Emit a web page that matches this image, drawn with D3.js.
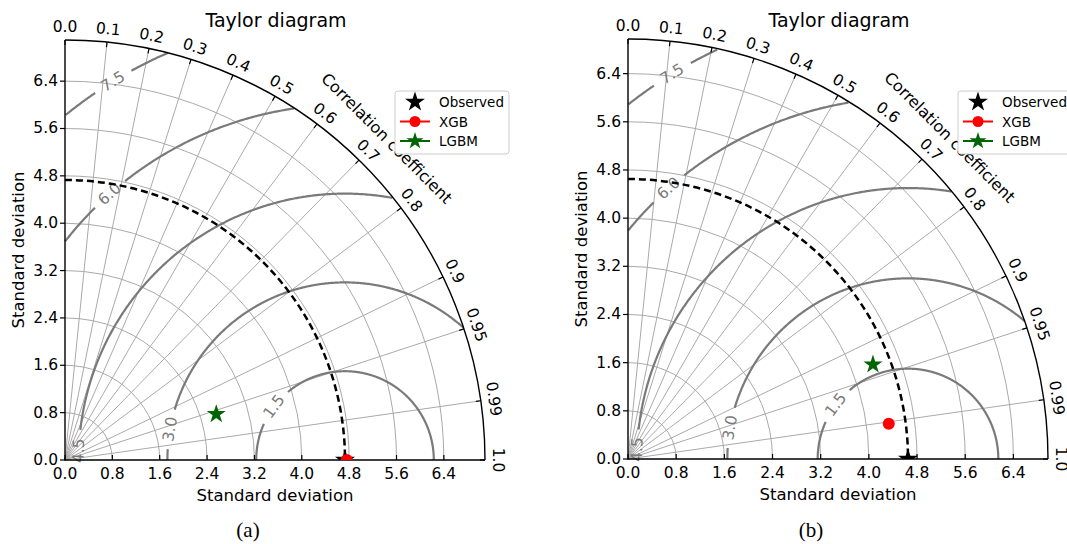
<!DOCTYPE html>
<meta charset="utf-8">
<head>
<style>
body { margin: 0; background: #fff; }
svg text { font-family: "DejaVu Sans", sans-serif; fill: #000; }
.grid { fill: none; stroke: #aaa; stroke-width: 1; }
.rms { fill: none; stroke: #7a7a7a; stroke-width: 2.2; }
.rmslabel { fill: #7a7a7a; font-size: 15.5px; }
.frame { fill: none; stroke: #000; stroke-width: 1.4; }
.caption { font-family: "Liberation Serif", serif; font-size: 21px; }
</style>
</head>
<body>
<div id="chart"></div>
<script src="https://cdn.jsdelivr.net/npm/d3@7"></script>
<script>

// ticks and contour levels
var corrTicks = [0.0, 0.1, 0.2, 0.3, 0.4, 0.5, 0.6, 0.7, 0.8, 0.9, 0.95, 0.99, 1.0];
var stdTicks = [0.0, 0.8, 1.6, 2.4, 3.2, 4.0, 4.8, 5.6, 6.4];
var rmsLevels = [1.5, 3.0, 4.5, 6.0, 7.5];
var rmsLabelAngle = [143, 170, 178, 131.5, 121.5]; // where each label sits on its contour (deg)

// one entry per panel
var panelNames = ["(a)", "(b)"];
var refStd = [4.73, 4.65];
var seriesNames = ["Observed", "XGB", "LGBM"];
var xgbStd = [4.76, 4.37];
var xgbCorr = [1.0, 0.991];
var lgbmStd = [2.67, 4.36];
var lgbmCorr = [0.957, 0.933];

var width = 1067, height = 544;
var R = 420; // pixel radius of the quarter circle
var origins = [{x: 65, y: 460}, {x: 628, y: 459}];

var svg = d3.select("#chart").append("svg")
    .attr("width", width)
    .attr("height", height);

function starPath(cx, cy, ro) {
  var ri = ro * 0.382, pts = [];
  for (var k = 0; k < 10; k++) {
    var a = -Math.PI / 2 + k * Math.PI / 5;
    var rr = k % 2 ? ri : ro;
    pts.push([cx + rr * Math.cos(a), cy + rr * Math.sin(a)]);
  }
  return "M" + pts.join("L") + "Z";
}

function fmtCorr(c) {
  return Math.round(c * 100) % 10 === 0 ? c.toFixed(1) : c.toFixed(2);
}

function drawPanel(p) {
  var ox = origins[p].x, oy = origins[p].y;
  var rmax = 1.5 * refStd[p];
  var r = d3.scaleLinear().domain([0, rmax]).range([0, R]);
  var g = svg.append("g");

  function pt(s, c) {
    var t = Math.acos(c);
    return [ox + r(s) * Math.cos(t), oy - r(s) * Math.sin(t)];
  }
  function arcPath(rad) {
    return "M" + ox + "," + (oy - rad) + "A" + rad + "," + rad + " 0 0 1 " + (ox + rad) + "," + oy;
  }

  var clipId = "clip" + p;
  svg.append("clipPath").attr("id", clipId)
    .append("path")
    .attr("d", "M" + ox + "," + oy + "L" + ox + "," + (oy - R) +
      "A" + R + "," + R + " 0 0 1 " + (ox + R) + "," + oy + "Z");

  // grid: std arcs and correlation rays
  g.selectAll(".garc").data(stdTicks.filter(function(d) { return d > 0; }))
    .enter().append("path").attr("class", "grid")
    .attr("d", function(d) { return arcPath(r(d)); });
  g.selectAll(".gray").data(corrTicks.filter(function(d) { return d > 0 && d < 1; }))
    .enter().append("line").attr("class", "grid")
    .attr("x1", ox).attr("y1", oy)
    .attr("x2", function(d) { return pt(rmax, d)[0]; })
    .attr("y2", function(d) { return pt(rmax, d)[1]; });

  // centred RMS contours, broken where the label sits
  var line = d3.line()
    .x(function(d) { return ox + r(d[0]); })
    .y(function(d) { return oy - r(d[1]); });
  rmsLevels.forEach(function(lev, i) {
    var gap = (15 + 5) / r(lev) * 180 / Math.PI;
    var runs = [], cur = [];
    for (var a = 0; a <= 180; a += 0.25) {
      var x = refStd[p] + lev * Math.cos(a * Math.PI / 180);
      var y = lev * Math.sin(a * Math.PI / 180);
      var ok = x >= 0 && Math.hypot(x, y) <= rmax && Math.abs(a - rmsLabelAngle[i]) > gap;
      if (ok) cur.push([x, y]);
      else if (cur.length) { runs.push(cur); cur = []; }
    }
    if (cur.length) runs.push(cur);
    runs.forEach(function(run) {
      g.append("path").attr("class", "rms").attr("d", line(run));
    });
    var la = rmsLabelAngle[i] * Math.PI / 180;
    var lx = ox + r(refStd[p] + lev * Math.cos(la));
    var ly = oy - r(lev * Math.sin(la));
    g.append("text").attr("class", "rmslabel")
      .attr("transform", "translate(" + lx + "," + ly + ") rotate(" + (90 - rmsLabelAngle[i]) + ")")
      .attr("text-anchor", "middle").attr("dominant-baseline", "central")
      .text(lev.toFixed(1));
  });

  // reference std arc
  g.append("path").attr("d", arcPath(r(refStd[p])))
    .attr("fill", "none").attr("stroke", "#000")
    .attr("stroke-width", 2.5).attr("stroke-dasharray", "7,4");

  // frame
  g.append("path").attr("class", "frame")
    .attr("d", "M" + ox + "," + (oy - R) + "L" + ox + "," + oy + "L" + (ox + R) + "," + oy);
  g.append("path").attr("class", "frame").attr("d", arcPath(R));

  // correlation ticks and labels
  corrTicks.forEach(function(c) {
    var t = Math.acos(c);
    g.append("line").attr("stroke", "#000").attr("stroke-width", 1.2)
      .attr("x1", ox + R * Math.cos(t)).attr("y1", oy - R * Math.sin(t))
      .attr("x2", ox + (R - 5) * Math.cos(t)).attr("y2", oy - (R - 5) * Math.sin(t));
    g.append("text")
      .attr("transform", "translate(" + (ox + (R + 13) * Math.cos(t)) + "," + (oy - (R + 13) * Math.sin(t)) +
        ") rotate(" + (90 - t * 180 / Math.PI) + ")")
      .attr("text-anchor", "middle").attr("dominant-baseline", "central")
      .style("font-size", "15.5px")
      .text(fmtCorr(c));
  });
  g.append("text")
    .attr("transform", "translate(" + (ox + (R + 35) * Math.SQRT1_2) + "," + (oy - (R + 35) * Math.SQRT1_2) + ") rotate(45)")
    .attr("text-anchor", "middle").attr("dominant-baseline", "central")
    .style("font-size", "16px")
    .text("Correlation coefficient");

  // std ticks
  stdTicks.forEach(function(s) {
    g.append("line").attr("stroke", "#000").attr("stroke-width", 1.2)
      .attr("x1", ox - 5).attr("x2", ox).attr("y1", oy - r(s)).attr("y2", oy - r(s));
    g.append("line").attr("stroke", "#000").attr("stroke-width", 1.2)
      .attr("x1", ox + r(s)).attr("x2", ox + r(s)).attr("y1", oy).attr("y2", oy - 5);
    g.append("text").attr("x", ox - 7).attr("y", oy - r(s))
      .attr("text-anchor", "end").attr("dominant-baseline", "central")
      .style("font-size", "15.5px").text(s.toFixed(1));
    g.append("text").attr("x", ox + r(s)).attr("y", oy + 14)
      .attr("text-anchor", "middle").attr("dominant-baseline", "central")
      .style("font-size", "15.5px").text(s.toFixed(1));
  });

  g.append("text").attr("x", ox + 210).attr("y", oy + 35)
    .attr("text-anchor", "middle").attr("dominant-baseline", "central")
    .style("font-size", "16.5px").text("Standard deviation");
  g.append("text")
    .attr("transform", "translate(" + (ox - 47) + "," + (oy - R / 2) + ") rotate(-90)")
    .attr("text-anchor", "middle").attr("dominant-baseline", "central")
    .style("font-size", "16.5px").text("Standard deviation");
  g.append("text").attr("x", ox + 211).attr("y", 20)
    .attr("text-anchor", "middle").attr("dominant-baseline", "central")
    .style("font-size", "19px").text("Taylor diagram");
  g.append("text").attr("class", "caption").attr("x", ox + 183).attr("y", 530)
    .attr("text-anchor", "middle").attr("dominant-baseline", "central")
    .text(panelNames[p]);

  // points
  var mk = g.append("g").attr("clip-path", "url(#" + clipId + ")");
  var obs = pt(refStd[p], 1.0);
  mk.append("path").attr("d", starPath(obs[0], obs[1], 10.5)).attr("fill", "#000");
  var xp = pt(xgbStd[p], xgbCorr[p]);
  mk.append("circle").attr("cx", xp[0]).attr("cy", xp[1]).attr("r", 6).attr("fill", "#f00");
  var lp = pt(lgbmStd[p], lgbmCorr[p]);
  mk.append("path").attr("d", starPath(lp[0], lp[1], 10)).attr("fill", "#006400");

  // legend
  var lx = ox + 330, ly = 91;
  var lg = g.append("g").attr("transform", "translate(" + lx + "," + ly + ")");
  lg.append("rect").attr("width", 114).attr("height", 63).attr("rx", 3)
    .attr("fill", "#fff").attr("stroke", "#ccc");
  var rowY = [11, 30.5, 50];
  lg.append("path").attr("d", starPath(20, rowY[0], 10.5)).attr("fill", "#000");
  lg.append("line").attr("x1", 5).attr("x2", 35).attr("y1", rowY[1]).attr("y2", rowY[1])
    .attr("stroke", "#f00").attr("stroke-width", 2);
  lg.append("circle").attr("cx", 20).attr("cy", rowY[1]).attr("r", 5.5).attr("fill", "#f00");
  lg.append("line").attr("x1", 5).attr("x2", 35).attr("y1", rowY[2]).attr("y2", rowY[2])
    .attr("stroke", "#006400").attr("stroke-width", 2);
  lg.append("path").attr("d", starPath(20, rowY[2], 9)).attr("fill", "#006400");
  seriesNames.forEach(function(n, i) {
    lg.append("text").attr("x", 44).attr("y", rowY[i])
      .attr("dominant-baseline", "central").style("font-size", "13.5px").text(n);
  });
}

drawPanel(0);
drawPanel(1);
</script>
</body>
</html>
